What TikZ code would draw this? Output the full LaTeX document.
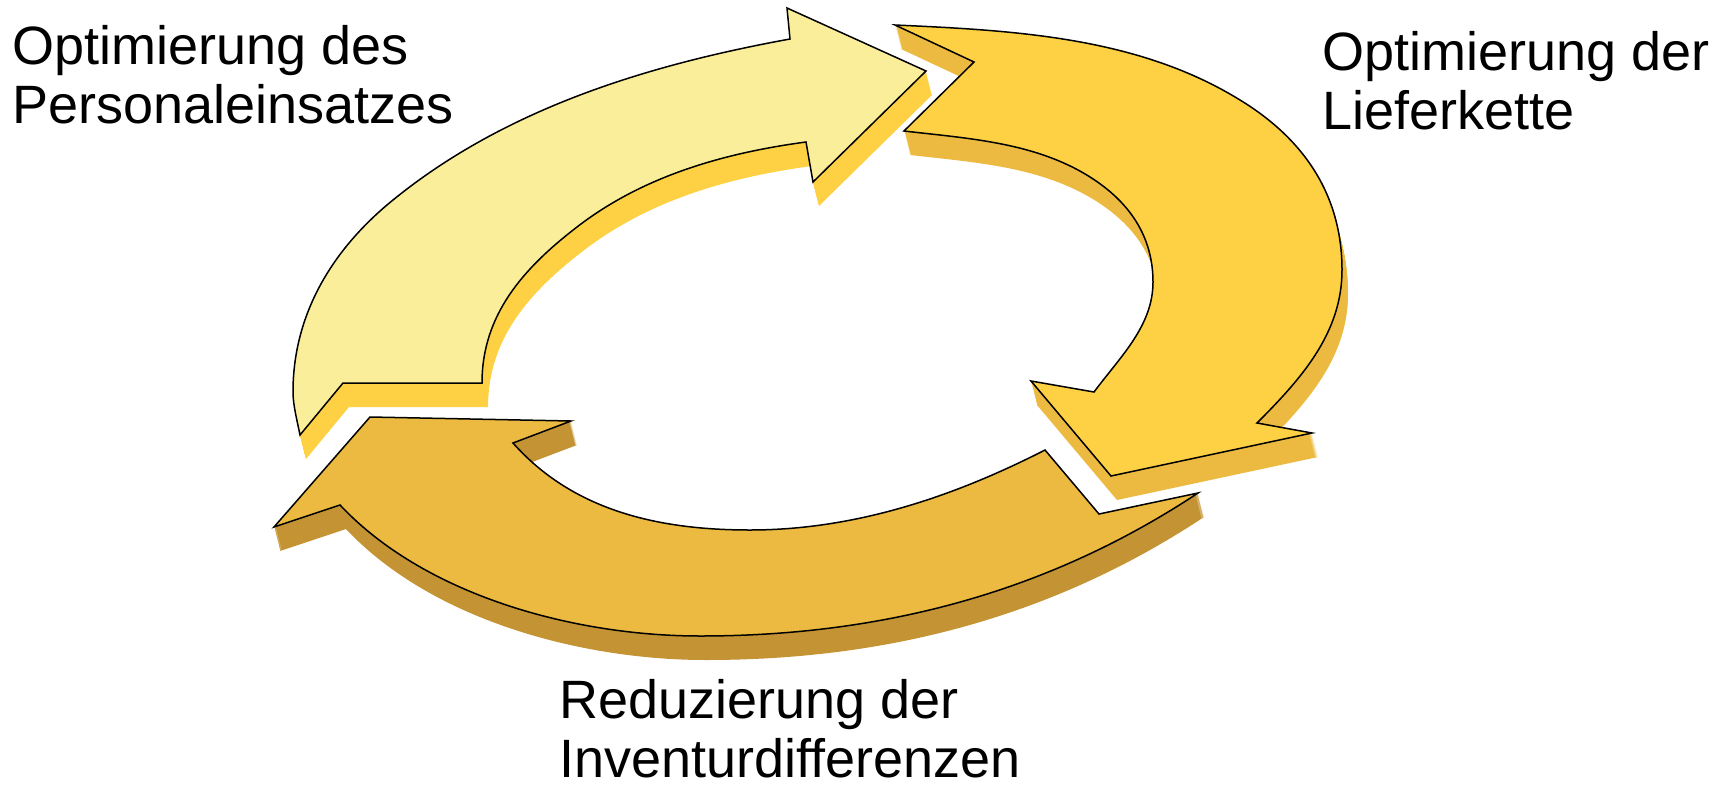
\documentclass[tikz,border=0pt]{standalone}
\usepackage{fontspec}
\setmainfont{Liberation Sans}
\definecolor{paleyellow}{HTML}{FBEE9A}
\definecolor{sunyellow}{HTML}{FDD143}
\definecolor{goldyellow}{HTML}{ECBA40}
\definecolor{darkgold}{HTML}{C49333}
\usepackage{tikz}
\tikzset{
  arrowbody/.style={draw=black, line width=1.5pt, line join=miter},
  cyclelabel/.style={anchor=north west, inner sep=0pt, align=left,
    font=\fontsize{54}{59}\selectfont}
}
\newcommand\pathPersonal{(300,435) .. controls (297,420) and (293,405) .. (293,392)
  .. controls (293,314) and (332.5,249) .. (393,200)
  .. controls (505.5,108.5) and (647.5,65) .. (790,39)
  -- (787,8) -- (926,71) -- (813,182) -- (806,142)
  .. controls (724,153) and (643,176) .. (577,227)
  .. controls (523,268.5) and (482,315) .. (482,383)
  -- (343,383) -- cycle}
\newcommand\pathLiefer{(895,25) .. controls (1015,30.4) and (1138,37) .. (1240,100)
  .. controls (1304,139) and (1342,195) .. (1342,270)
  .. controls (1342,333) and (1301.5,378.5) .. (1257,423)
  -- (1312,433) -- (1111,476) -- (1031,381) -- (1094,392)
  .. controls (1120,357) and (1153,326) .. (1153,282)
  .. controls (1153,236) and (1129,201.6) .. (1090,177)
  .. controls (1035,142.3) and (968.5,138.5) .. (904,131)
  -- (974,62) -- cycle}
\newcommand\pathInventur{(274,527) -- (370,417) -- (571,421) -- (513,443)
  .. controls (573.4,511) and (659,530) .. (750,530)
  .. controls (854,530) and (952.4,497.3) .. (1045,450)
  -- (1099,514) -- (1198,493)
  .. controls (1047,593) and (881,636) .. (700,636)
  .. controls (575,636) and (425.5,596) .. (340,505)
  -- cycle}

\begin{document}
\begin{tikzpicture}[x=1pt, y=-1pt]
\useasboundingbox (0,0) rectangle (1722,785);
% side faces
\foreach \k in {1,...,24} {
  \fill[darkgold, shift={(0.25*\k,\k)}] \pathInventur;
  \fill[goldyellow, shift={(0.25*\k,\k)}] \pathLiefer;
  \fill[sunyellow, shift={(0.25*\k,\k)}] \pathPersonal;
}
\path[arrowbody, fill=goldyellow] \pathInventur;
\path[arrowbody, fill=sunyellow] \pathLiefer;
\path[arrowbody, fill=paleyellow] \pathPersonal;

\node[cyclelabel] (personal) at (12,25) {Optimierung des\\Personaleinsatzes};
\node[cyclelabel] (liefer) at (1322,31) {Optimierung der\\Lieferkette};
\node[cyclelabel] (inventur) at (559,679) {Reduzierung der\\Inventurdifferenzen};
\end{tikzpicture}
\end{document}
